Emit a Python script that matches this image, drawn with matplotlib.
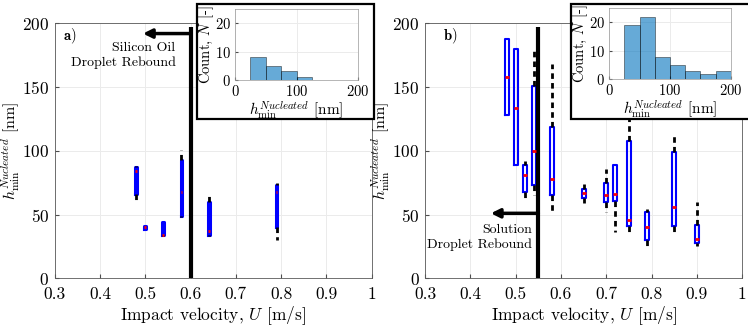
import matplotlib
matplotlib.use('Agg')
import matplotlib.pyplot as plt
from matplotlib.patches import Rectangle

plt.rcParams['font.family'] = 'serif'
plt.rcParams['font.serif'] = ['cmr10']
plt.rcParams['mathtext.fontset'] = 'cm'
plt.rcParams['axes.unicode_minus'] = False
plt.rcParams['axes.formatter.use_mathtext'] = True

# panel a) silicon oil: box stats per impact velocity
a_u = [0.48, 0.50, 0.54, 0.58, 0.64, 0.79]
a_q1 = [66, 39, 34, 49, 34, 40]
a_med = [84, 40, 34, 68, 37, 68]
a_q3 = [87, 41, 44, 93, 60, 73]
a_lo = [61, 39, 33, 48, 33, 30]
a_hi = [88, 41, 44, 101, 67, 75]

# panel b) solution
b_u = [0.48, 0.50, 0.52, 0.54, 0.58, 0.65, 0.70, 0.72, 0.75, 0.79, 0.85, 0.90]
b_q1 = [128, 89, 68, 73, 65, 63, 60, 61, 41, 30, 41, 28]
b_med = [158, 134, 81, 100, 78, 67, 65, 66, 46, 40, 56, 31]
b_q3 = [188, 180, 89, 151, 119, 70, 75, 89, 108, 52, 99, 42]
b_lo = [128, 89, 63, 65, 53, 59, 52, 36, 36, 24, 36, 25]
b_hi = [188, 180, 92, 180, 168, 74, 86, 89, 135, 54, 113, 60]

# inset histograms (bin edges 25..200 step 25)
bin_left = [25, 50, 75, 100, 125, 150, 175]
a_counts = [8, 5, 3, 1, 0, 0, 0]
b_counts = [19, 22, 8, 5, 3, 2, 3]

a_threshold = 0.6
b_threshold = 0.55

ylab = r'$h_{\mathrm{min}}^{Nucleated}$ [nm]'


def box_stats(q1, med, q3, lo, hi):
    return [dict(q1=a, med=m, q3=b, whislo=l, whishi=h, fliers=[])
            for a, m, b, l, h in zip(q1, med, q3, lo, hi)]


def style_main(ax):
    ax.set_xlim(0.3, 1)
    ax.set_ylim(0, 200)
    ax.set_xticks([0.3, 0.4, 0.5, 0.6, 0.7, 0.8, 0.9, 1])
    ax.set_xticklabels(['0.3', '0.4', '0.5', '0.6', '0.7', '0.8', '0.9', '1'])
    ax.set_yticks([0, 50, 100, 150, 200])
    ax.grid(True, color='0.92', lw=0.7)
    ax.set_axisbelow(True)
    ax.tick_params(direction='in', length=3, labelsize=12.5, color='0.3')
    ax.tick_params(axis='x', pad=6)
    ax.tick_params(axis='y', pad=4)
    for s in ax.spines.values():
        s.set_color('0.35')
        s.set_linewidth(0.6)
    ax.set_xlabel(r'Impact velocity, $U$ [m/s]', fontsize=12.5, labelpad=2)
    ax.set_ylabel(ylab, fontsize=11.5, labelpad=0)


def style_inset(ax, counts):
    ax.bar(bin_left, counts, width=25, align='edge', color='#0072BD', alpha=0.6,
           edgecolor='k', linewidth=0.5)
    ax.set_xlim(0, 200)
    ax.set_ylim(0, 25)
    ax.set_xticks([0, 100, 200])
    ax.set_yticks([0, 10, 20])
    ax.grid(True, color='0.92', lw=0.7)
    ax.set_axisbelow(True)
    ax.tick_params(direction='in', length=2, labelsize=10.5, color='0.3', pad=3)
    for s in ax.spines.values():
        s.set_color('0.6')
        s.set_linewidth(0.5)
    ax.set_xlabel(ylab, fontsize=11, labelpad=0)
    ax.set_ylabel(r'Count, $N$ [-]', fontsize=10.5, labelpad=-1)


fig = plt.figure(figsize=(7.48, 3.29), dpi=100, facecolor='white')

ax1 = fig.add_axes([0.0731, 0.154, 0.4238, 0.775], zorder=0)
ax2 = fig.add_axes([0.5685, 0.154, 0.4235, 0.775], zorder=0)

ax1.bxp(box_stats(a_q1, a_med, a_q3, a_lo, a_hi), positions=a_u, widths=0.004,
        showcaps=False, showfliers=False, manage_ticks=False,
        boxprops=dict(color='#0000ff', lw=2.2),
        medianprops=dict(color='red', lw=2),
        whiskerprops=dict(color='k', lw=2, linestyle=(0, (2, 1.5))))
ax2.bxp(box_stats(b_q1, b_med, b_q3, b_lo, b_hi), positions=b_u, widths=0.009,
        showcaps=False, showfliers=False, manage_ticks=False,
        boxprops=dict(color='#0000ff', lw=1.5),
        medianprops=dict(color='red', lw=2),
        whiskerprops=dict(color='k', lw=2, linestyle=(0, (2, 1.5))))

style_main(ax1)
style_main(ax2)

# rebound threshold lines
ax1.plot([a_threshold, a_threshold], [0, 197], color='k', lw=3, solid_capstyle='butt')
ax1.annotate('', xy=(0.495, 192), xytext=(a_threshold, 192),
             arrowprops=dict(arrowstyle='-|>', color='k', lw=2.5, mutation_scale=13,
                             shrinkA=0, shrinkB=0))
ax1.text(0.567, 175, 'Silicon Oil\nDroplet Rebound', ha='right', va='center',
         multialignment='right', fontsize=10, linespacing=1.3)
ax1.text(0.318, 190, r'$\mathbf{a)}$', fontsize=10.5, va='center')

ax2.plot([b_threshold, b_threshold], [0, 197], color='k', lw=3, solid_capstyle='butt')
ax2.annotate('', xy=(0.445, 51), xytext=(b_threshold, 51),
             arrowprops=dict(arrowstyle='-|>', color='k', lw=2.5, mutation_scale=13,
                             shrinkA=0, shrinkB=0))
ax2.text(0.536, 32, 'Solution\nDroplet Rebound', ha='right', va='center',
         multialignment='right', fontsize=10, linespacing=1.3)
ax2.text(0.34, 190, r'$\mathbf{b)}$', fontsize=10.5, va='center')

# inset frames
fig.add_artist(Rectangle((0.2634, 0.6383), 0.2366, 0.3495, transform=fig.transFigure,
                         facecolor='white', edgecolor='k', lw=1.6, zorder=1))
fig.add_artist(Rectangle((0.7634, 0.6383), 0.25, 0.3495, transform=fig.transFigure,
                         facecolor='white', edgecolor='k', lw=1.6, zorder=1))

in1 = fig.add_axes([0.3142, 0.7568, 0.1644, 0.2158], zorder=2)
in2 = fig.add_axes([0.8146, 0.759, 0.1623, 0.2158], zorder=2)
style_inset(in1, a_counts)
style_inset(in2, b_counts)

fig.savefig('out.png', dpi=100)
